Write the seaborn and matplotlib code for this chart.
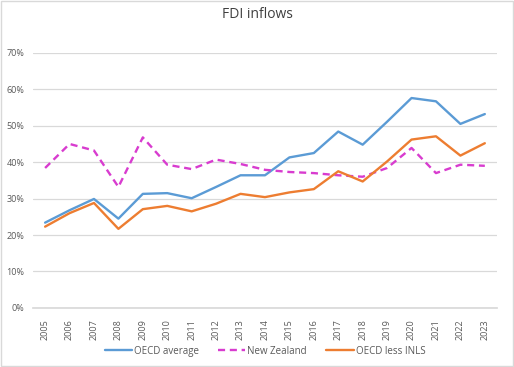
import numpy as np
import pandas as pd
import matplotlib
matplotlib.use("Agg")
import matplotlib.pyplot as plt
import seaborn as sns
from matplotlib.ticker import PercentFormatter

# ==========================
# Data
# ==========================
years = [str(y) for y in range(2005, 2024)]
oecd_average = [23.4, 26.8, 29.9, 24.5, 31.3, 31.5, 30.1, 33.2, 36.4, 36.4, 41.3,
                42.5, 48.4, 44.8, 51.1, 57.6, 56.7, 50.5, 53.2]
new_zealand = [38.4, 45.0, 43.2, 33.2, 46.8, 39.3, 38.1, 40.7, 39.5, 37.9, 37.3,
               37.0, 36.4, 36.0, 38.4, 43.9, 37.0, 39.3, 39.0]
oecd_less_inls = [22.3, 26.0, 28.8, 21.7, 27.1, 28.0, 26.5, 28.6, 31.3, 30.4, 31.7,
                  32.6, 37.5, 34.7, 40.2, 46.2, 47.1, 41.8, 45.2]
series_names = ["OECD average", "New Zealand", "OECD less INLS"]

df = pd.DataFrame({
    "Year": years * 3,
    "Value": oecd_average + new_zealand + oecd_less_inls,
    "Series": [series_names[0]] * 19 + [series_names[1]] * 19 + [series_names[2]] * 19,
})

# ==========================
# Style
# ==========================
sns.set_theme(style="white")
plt.rcParams["font.family"] = ["Open Sans", "DejaVu Sans"]
text_grey = "#595959"
palette = {"OECD average": "#5B9BD5", "New Zealand": "#D83CCF", "OECD less INLS": "#ED7D31"}
dashes = {"OECD average": "", "New Zealand": (3, 2), "OECD less INLS": ""}

fig = plt.figure(figsize=(5.14, 3.67), dpi=100)
ax = fig.add_axes([0.064, 0.161, 0.903, 0.695])

sns.lineplot(data=df, x="Year", y="Value", hue="Series", style="Series",
             palette=palette, dashes=dashes, linewidth=1.7, ax=ax, sort=False)

# axes
ax.set_ylim(0, 70)
ax.set_xlim(-0.5, len(years) - 0.5)
ax.set_yticks(np.arange(0, 71, 10))
ax.yaxis.set_major_formatter(PercentFormatter(decimals=0))
ax.grid(axis="y", color="#D9D9D9", linewidth=0.9)
ax.set_axisbelow(True)
for side in ["top", "right", "left"]:
    ax.spines[side].set_visible(False)
ax.spines["bottom"].set_color("#D9D9D9")
ax.tick_params(axis="x", rotation=90, labelsize=6.5, colors=text_grey, length=0, pad=8)
ax.tick_params(axis="y", labelsize=6.5, colors=text_grey, length=0, pad=6)
ax.set_xlabel("")
ax.set_ylabel("")

# title
fig.text(0.5, 0.96, "FDI inflows", ha="center", va="center", fontsize=10, color="#404040")

# legend
handles, labels = ax.get_legend_handles_labels()
ax.legend(handles, labels, loc="center", bbox_to_anchor=(0.5, -0.169), ncol=3,
          frameon=False, fontsize=7, labelcolor=text_grey, handlelength=2.8,
          handletextpad=0.2, columnspacing=2.0)

# chart border
fig.add_artist(plt.Rectangle((0.002, 0.003), 0.996, 0.994, transform=fig.transFigure,
                             fill=False, edgecolor="#D9D9D9", linewidth=1))

plt.savefig("out.png", dpi=100)
plt.close()
